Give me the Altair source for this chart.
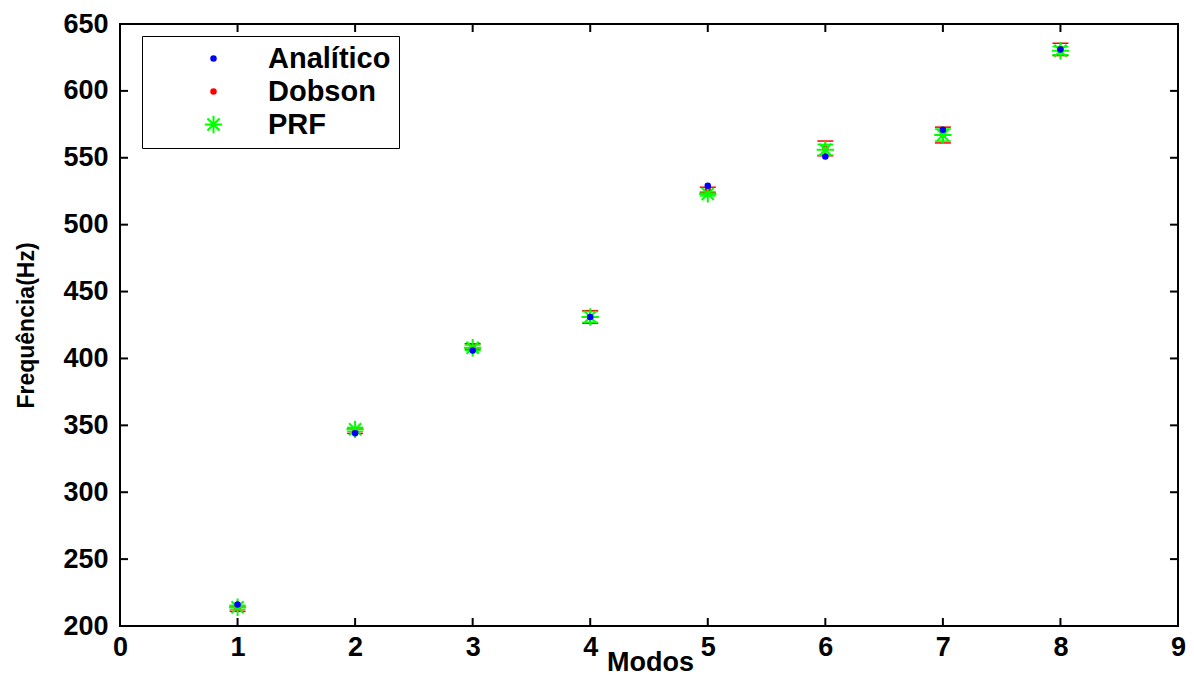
import altair as alt
import pandas as pd

# ---- data ----
modos = [1, 2, 3, 4, 5, 6, 7, 8]
analitico = [216, 344, 406, 431, 529, 551, 571, 631]
dobson = [213, 346, 409, 431, 526, 557, 567, 631]
dobson_err = [2, 2, 2, 4.7, 2, 5.5, 5.9, 4.6]
prf = [214, 347, 408, 431, 523, 556, 567, 630]
prf_err = [1.5, 1.5, 2, 4, 1.5, 4, 4.5, 3]
series = ["Analítico", "Dobson", "PRF"]
colors = ["#0000ff", "#ff0000", "#00ff00"]
x_ticks = list(range(0, 10))
y_ticks = list(range(200, 651, 50))

DOT = ("M-0.26,0A0.26,0.26 0 1,0 0.26,0A0.26,0.26 0 1,0 -0.26,0Z"
       "M-0.12,0A0.12,0.12 0 1,0 0.12,0A0.12,0.12 0 1,0 -0.12,0Z")
STAR = "M-1,0L1,0M0,-1L0,1M-0.7,-0.7L0.7,0.7M-0.7,0.7L0.7,-0.7"

W, H = 1058, 602
FONT = "Liberation Sans"

# points table (drawing order: Dobson, PRF, Analítico on top)
rows = []
for name, vals in [("Dobson", dobson), ("PRF", prf), ("Analítico", analitico)]:
    for m, v in zip(modos, vals):
        rows.append({"Modo": m, "Freq": v, "Serie": name})
df_pts = pd.DataFrame(rows)

df_err_d = pd.DataFrame({"Modo": modos,
                         "lo": [v - e for v, e in zip(dobson, dobson_err)],
                         "hi": [v + e for v, e in zip(dobson, dobson_err)]})
df_err_p = pd.DataFrame({"Modo": modos,
                         "lo": [v - e for v, e in zip(prf, prf_err)],
                         "hi": [v + e for v, e in zip(prf, prf_err)]})

df_xt = pd.DataFrame({"t": x_ticks})
df_yt = pd.DataFrame({"t": y_ticks})

xscale = alt.Scale(domain=[0, 9], nice=False)
yscale = alt.Scale(domain=[200, 650], nice=False, zero=False)

xaxis = alt.Axis(values=x_ticks, format="d", title="Modos", ticks=False, domain=False,
                 grid=False, labelFontSize=27, labelFont=FONT, labelFontWeight="bold",
                 labelColor="black", labelPadding=8, titleFont=FONT, titleFontSize=27,
                 titleFontWeight="bold", titleColor="black", titleX=W / 2 + 1,
                 titleY=44, titleBaseline="alphabetic", labelFlush=False)
yaxis = alt.Axis(values=y_ticks, format="d", title="Frequência(Hz)", ticks=False, domain=False,
                 grid=False, labelFontSize=27, labelFont=FONT, labelFontWeight="bold",
                 labelColor="black", labelPadding=12, titleFont=FONT, titleFontSize=23,
                 titleFontWeight="bold", titleColor="black", titleAngle=270,
                 titleX=-94, titleY=H / 2, titleBaseline="middle", titleAlign="center",
                 labelFlush=False)


def errbars(df, col):
    rule = alt.Chart(df).mark_rule(strokeWidth=1.5, color=col).encode(
        x=alt.X("Modo:Q", scale=xscale, axis=xaxis),
        y=alt.Y("lo:Q", scale=yscale, axis=yaxis),
        y2="hi:Q",
    )
    lo = alt.Chart(df).mark_tick(orient="horizontal", size=16, thickness=1.5,
                                 opacity=1, color=col).encode(
        x=alt.X("Modo:Q", scale=xscale), y=alt.Y("lo:Q", scale=yscale))
    hi = alt.Chart(df).mark_tick(orient="horizontal", size=16, thickness=1.5,
                                 opacity=1, color=col).encode(
        x=alt.X("Modo:Q", scale=xscale), y=alt.Y("hi:Q", scale=yscale))
    return [rule, lo, hi]


points = alt.Chart(df_pts).mark_point(filled=False, size=300, strokeWidth=2, opacity=1).encode(
    x=alt.X("Modo:Q", scale=xscale),
    y=alt.Y("Freq:Q", scale=yscale),
    color=alt.Color("Serie:N", scale=alt.Scale(domain=series, range=colors),
                    legend=alt.Legend(title=None)),
    shape=alt.Shape("Serie:N", scale=alt.Scale(domain=series, range=[DOT, DOT, STAR]),
                    legend=alt.Legend(title=None)),
)

# inward tick marks on all four sides
tk_bottom = alt.Chart(df_xt).mark_tick(orient="vertical", size=8, thickness=2, color="black", opacity=1).encode(
    x=alt.X("t:Q", scale=xscale), y=alt.value(H - 4))
tk_top = alt.Chart(df_xt).mark_tick(orient="vertical", size=8, thickness=2, color="black", opacity=1).encode(
    x=alt.X("t:Q", scale=xscale), y=alt.value(4))
tk_left = alt.Chart(df_yt).mark_tick(orient="horizontal", size=8, thickness=2, color="black", opacity=1).encode(
    y=alt.Y("t:Q", scale=yscale), x=alt.value(4))
tk_right = alt.Chart(df_yt).mark_tick(orient="horizontal", size=8, thickness=2, color="black", opacity=1).encode(
    y=alt.Y("t:Q", scale=yscale), x=alt.value(W - 4))

layers = errbars(df_err_d, colors[1]) + errbars(df_err_p, colors[2]) + [
    points, tk_bottom, tk_top, tk_left, tk_right]

chart = alt.layer(*layers).properties(
    width=W, height=H,
    autosize=alt.AutoSizeParams(type="none"),
    padding={"left": 112, "top": 16, "right": 8, "bottom": 51},
    background="white",
).configure_view(
    stroke="black", strokeWidth=2,
).configure_legend(
    orient="none", legendX=22, legendY=12,
    strokeColor="black", fillColor="white", padding=8,
    labelFont=FONT, labelFontSize=29, labelFontWeight="bold", labelColor="black",
    symbolSize=300, symbolStrokeWidth=2, symbolOffset=49, labelOffset=40,
    rowPadding=3,
)

chart.save("out.html", embed_options={"renderer": "svg", "actions": False})
